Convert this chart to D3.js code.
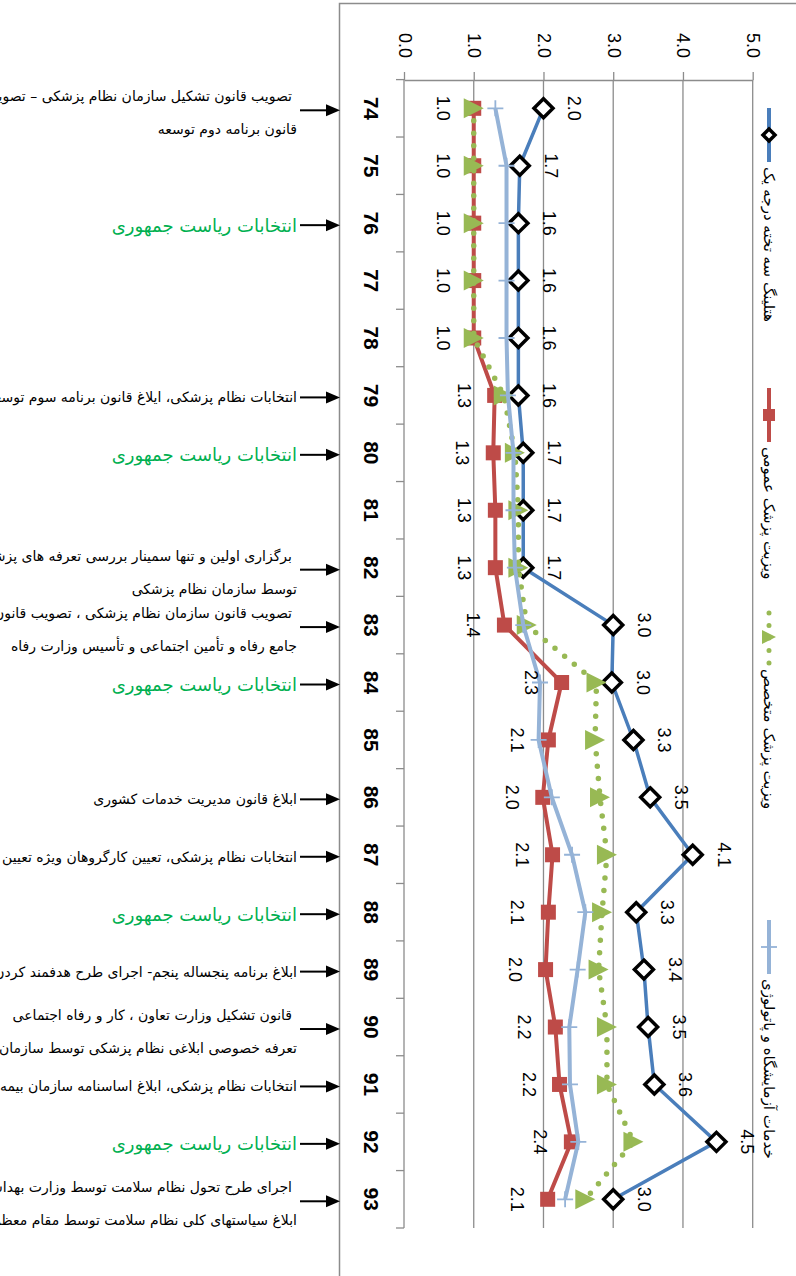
<!DOCTYPE html>
<html>
<head>
<meta charset="utf-8">
<script src="https://cdn.jsdelivr.net/npm/d3@7"></script>
<style>
  body { margin: 0; background: #fff; }
  svg { display: block; }
</style>
</head>
<body>
<svg id="chart" width="796" height="1276"></svg>
<script>
const categories = ['74', '75', '76', '77', '78', '79', '80', '81', '82', '83', '84', '85', '86', '87', '88', '89', '90', '91', '92', '93'];
const valueTicks = [0, 1, 2, 3, 4, 5];

const seriesNames = [
  'هتلینگ سه تخته درجه یک',
  'ویزیت پزشک عمومی',
  'ویزیت پزشک متخصص',
  'خدمات آزمایشگاه و پاتولوژی'
];
const hotelingValues = [2.0, 1.66, 1.64, 1.64, 1.64, 1.64, 1.71, 1.71, 1.71, 3.0, 2.98, 3.29, 3.53, 4.14, 3.33, 3.44, 3.5, 3.59, 4.48, 3.0];
const gpVisitValues = [1.0, 1.0, 1.0, 1.0, 1.0, 1.3, 1.28, 1.31, 1.31, 1.44, 2.26, 2.07, 1.99, 2.13, 2.07, 2.03, 2.17, 2.23, 2.4, 2.06];
const specialistVisitValues = [1.0, 1.0, 1.0, 1.0, 1.0, 1.43, 1.59, 1.64, 1.64, 1.76, 2.76, 2.74, 2.81, 2.91, 2.84, 2.79, 2.91, 2.91, 3.29, 2.6];
const labValues = [1.31, 1.47, 1.47, 1.47, 1.47, 1.49, 1.57, 1.57, 1.59, 1.71, 1.95, 1.93, 2.12, 2.41, 2.6, 2.49, 2.37, 2.38, 2.5, 2.31];

const eventYears = ['74', '76', '79', '80', '82', '83', '84', '86', '87', '88', '89', '90', '91', '92', '93'];
const eventTexts = [
  ['تصویب قانون تشکیل سازمان نظام پزشکی – تصویب', 'قانون برنامه دوم توسعه'],
  ['انتخابات ریاست جمهوری'],
  ['انتخابات نظام پزشکی، ایلاغ قانون برنامه سوم توسعه'],
  ['انتخابات ریاست جمهوری'],
  ['برگزاری اولین و تنها سمینار بررسی تعرفه های پزشکی', 'توسط سازمان نظام پزشکی'],
  ['تصویب قانون سازمان نظام پزشکی ، تصویب قانون ساختار نظام', 'جامع رفاه و تأمین اجتماعی و تأسیس وزارت رفاه'],
  ['انتخابات ریاست جمهوری'],
  ['ابلاغ قانون مدیریت خدمات کشوری'],
  ['انتخابات نظام پزشکی، تعیین کارگروهان ویژه تعیین تعرفه'],
  ['انتخابات ریاست جمهوری'],
  ['ابلاغ برنامه پنجساله پنجم- اجرای طرح هدفمند کردن یارانه ها'],
  ['قانون تشکیل وزارت تعاون ، کار و رفاه اجتماعی', 'تعرفه خصوصی ابلاغی نظام پزشکی توسط سازمان'],
  ['انتخابات نظام پزشکی، ابلاغ اساسنامه سازمان بیمه سلامت'],
  ['انتخابات ریاست جمهوری'],
  ['اجرای طرح تحول نظام سلامت توسط وزارت بهداشت', 'ابلاغ سیاستهای کلی نظام سلامت توسط مقام معظم رهبری']
];
const eventIsElection = [false, true, false, true, false, false, true, false, false, true, false, false, false, true, false];

const svg = d3.select('#chart');
const NUM_FONT = '"Liberation Sans", Arial, sans-serif';
const FA_FONT = '"DejaVu Sans", sans-serif';
const GRID = '#8c8c8c';

// the chart is turned a quarter turn: values run left to right, years top to bottom
const x = d3.scaleLinear().domain([0, 5]).range([404, 752.7]);
const y = d3.scaleBand().domain(categories).range([79.6, 1228]);
const cy = (c) => y(c) + y.bandwidth() / 2;
const fmt = d3.format('.1f');

// outer border
svg.append('path')
  .attr('d', 'M339.5,1276V3.5H796')
  .attr('fill', 'none')
  .attr('stroke', GRID)
  .attr('stroke-width', 1.5);

// gridlines
svg.append('g')
  .selectAll('line')
  .data(valueTicks.slice(1))
  .join('line')
  .attr('x1', (d) => x(d))
  .attr('x2', (d) => x(d))
  .attr('y1', 80)
  .attr('y2', y.range()[1])
  .attr('stroke', GRID)
  .attr('stroke-width', 1.3);

// value axis on top
const valueAxis = svg.append('g')
  .attr('transform', 'translate(0,80)')
  .call(d3.axisTop(x).tickValues(valueTicks).tickSize(8).tickSizeOuter(0).tickFormat(fmt));
valueAxis.selectAll('path, line').attr('stroke', GRID).attr('stroke-width', 1.3);
valueAxis.selectAll('text')
  .attr('x', 0).attr('y', 0).attr('dy', null)
  .attr('text-anchor', 'end')
  .attr('dominant-baseline', 'central')
  .attr('transform', 'translate(0,-22) rotate(90)')
  .attr('font-family', NUM_FONT)
  .attr('font-size', 18)
  .attr('fill', '#000');

// category axis on the left
const catAxis = svg.append('g');
catAxis.append('line')
  .attr('x1', 404).attr('x2', 404)
  .attr('y1', 80).attr('y2', y.range()[1])
  .attr('stroke', GRID).attr('stroke-width', 1.3);
catAxis.selectAll('line.tick')
  .data([...categories.map((c) => y(c)), y.range()[1]])
  .join('line')
  .attr('class', 'tick')
  .attr('x1', 396).attr('x2', 404)
  .attr('y1', (d) => d).attr('y2', (d) => d)
  .attr('stroke', GRID).attr('stroke-width', 1.3);
catAxis.selectAll('text')
  .data(categories)
  .join('text')
  .attr('transform', (d) => `translate(371,${cy(d)}) rotate(90)`)
  .attr('text-anchor', 'middle')
  .attr('dominant-baseline', 'central')
  .attr('font-family', NUM_FONT)
  .attr('font-weight', 'bold')
  .attr('font-size', 21)
  .text((d) => d);

const line = d3.line().x((d) => x(d.v)).y((d) => cy(d.c));
const pts = (vals) => categories.map((c, i) => ({ c, v: vals[i] }));

const BLUE = '#4a7ebb';
const RED = '#be4b48';
const GREEN = '#98b954';
const LIGHT = '#95b3d7';

// hoteling
svg.append('path').datum(pts(hotelingValues))
  .attr('d', line).attr('fill', 'none').attr('stroke', BLUE).attr('stroke-width', 3.5);
svg.append('g').selectAll('path')
  .data(pts(hotelingValues))
  .join('path')
  .attr('transform', (d) => `translate(${x(d.v)},${cy(d.c)})`)
  .attr('d', 'M0,-9.5L9.5,0L0,9.5L-9.5,0Z')
  .attr('fill', '#fff').attr('stroke', '#000').attr('stroke-width', 3.5);

// gp visit
svg.append('path').datum(pts(gpVisitValues))
  .attr('d', line).attr('fill', 'none').attr('stroke', RED).attr('stroke-width', 4);
svg.append('g').selectAll('rect')
  .data(pts(gpVisitValues))
  .join('rect')
  .attr('x', (d) => x(d.v) - 7.5).attr('y', (d) => cy(d.c) - 7.5)
  .attr('width', 15).attr('height', 15)
  .attr('fill', RED);

// specialist visit
svg.append('path').datum(pts(specialistVisitValues))
  .attr('d', line).attr('fill', 'none').attr('stroke', GREEN)
  .attr('stroke-width', 5.5).attr('stroke-linecap', 'round').attr('stroke-dasharray', '0 12.5');
svg.append('g').selectAll('path')
  .data(pts(specialistVisitValues))
  .join('path')
  .attr('transform', (d) => `translate(${x(d.v)},${cy(d.c)})`)
  .attr('d', 'M-10,-10L10,0L-10,10Z')
  .attr('fill', GREEN);

// lab & pathology
svg.append('path').datum(pts(labValues))
  .attr('d', line).attr('fill', 'none').attr('stroke', LIGHT).attr('stroke-width', 4);
svg.append('g').selectAll('path')
  .data(pts(labValues))
  .join('path')
  .attr('transform', (d) => `translate(${x(d.v)},${cy(d.c)})`)
  .attr('d', 'M-8,0H8M0,-8V8')
  .attr('stroke', LIGHT).attr('stroke-width', 1.8);

// data labels
const addLabels = (vals, offset) => {
  svg.append('g').selectAll('text')
    .data(pts(vals))
    .join('text')
    .attr('transform', (d) => `translate(${x(d.v) + offset},${cy(d.c)}) rotate(90)`)
    .attr('text-anchor', 'middle')
    .attr('dominant-baseline', 'central')
    .attr('font-family', NUM_FONT)
    .attr('font-size', 18)
    .text((d) => fmt(d.v));
};
addLabels(hotelingValues, 31);
addLabels(gpVisitValues, -31);

// legend (rotated, down the right edge)
const legendStarts = [108, 388, 610, 920];
const LEG_X = 769;
const MARK_LEN = 54;
const legend = svg.append('g');
seriesNames.forEach((name, i) => {
  const y0 = legendStarts[i];
  const mid = y0 + MARK_LEN / 2;
  const g = legend.append('g');
  if (i === 0) {
    g.append('line').attr('x1', LEG_X).attr('x2', LEG_X).attr('y1', y0).attr('y2', y0 + MARK_LEN)
      .attr('stroke', BLUE).attr('stroke-width', 4);
    g.append('path').attr('transform', `translate(${LEG_X},${mid})`)
      .attr('d', 'M0,-6L6,0L0,6L-6,0Z').attr('fill', '#fff').attr('stroke', '#000').attr('stroke-width', 3.5);
  } else if (i === 1) {
    g.append('line').attr('x1', LEG_X).attr('x2', LEG_X).attr('y1', y0).attr('y2', y0 + MARK_LEN)
      .attr('stroke', RED).attr('stroke-width', 4);
    g.append('rect').attr('x', LEG_X - 6).attr('y', mid - 6).attr('width', 12).attr('height', 12).attr('fill', RED);
  } else if (i === 2) {
    g.append('line').attr('x1', LEG_X).attr('x2', LEG_X).attr('y1', y0 + 3).attr('y2', y0 + MARK_LEN)
      .attr('stroke', GREEN).attr('stroke-width', 5).attr('stroke-linecap', 'round').attr('stroke-dasharray', '0 12.5');
    g.append('path').attr('transform', `translate(${LEG_X},${mid})`)
      .attr('d', 'M-7,-7L7,0L-7,7Z').attr('fill', GREEN);
  } else {
    g.append('line').attr('x1', LEG_X).attr('x2', LEG_X).attr('y1', y0).attr('y2', y0 + MARK_LEN)
      .attr('stroke', LIGHT).attr('stroke-width', 4);
    g.append('path').attr('transform', `translate(${LEG_X},${mid})`)
      .attr('d', 'M-8,0H8').attr('stroke', LIGHT).attr('stroke-width', 1.8);
  }
  g.append('text')
    .attr('transform', `translate(${LEG_X},${y0 + MARK_LEN + 5}) rotate(90)`)
    .attr('text-anchor', 'start')
    .attr('dominant-baseline', 'central')
    .attr('font-family', FA_FONT)
    .attr('font-size', 15)
    .text(name);
});

// event annotations with arrows
const events = svg.append('g');
eventYears.forEach((yr, i) => {
  const ay = cy(yr) + 2;
  events.append('line')
    .attr('x1', 300).attr('x2', 328)
    .attr('y1', ay).attr('y2', ay)
    .attr('stroke', '#000').attr('stroke-width', 2);
  events.append('path')
    .attr('d', `M326,${ay - 6}L340,${ay}L326,${ay + 6}Z`)
    .attr('fill', '#000');
  const lines = eventTexts[i];
  const election = eventIsElection[i];
  lines.forEach((t, j) => {
    const ty = lines.length === 1 ? ay : ay + (j === 0 ? -14 : 19);
    events.append('text')
      .attr('x', j === 0 && lines.length > 1 ? 292 : 297)
      .attr('y', ty)
      .attr('direction', 'rtl')
      .attr('text-anchor', 'start')
      .attr('dominant-baseline', 'central')
      .attr('font-family', FA_FONT)
      .attr('font-size', election ? 18 : 14)
      .attr('fill', election ? '#00b050' : '#000')
      .text(t);
  });
});
</script>
</body>
</html>
